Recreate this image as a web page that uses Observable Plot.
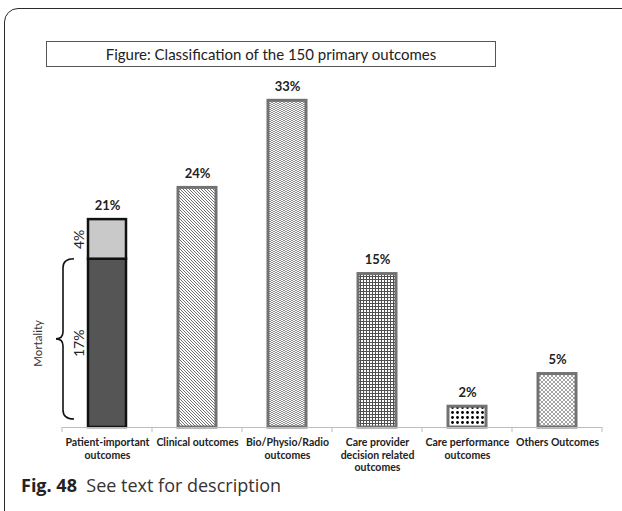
<!DOCTYPE html>
<html><head><meta charset="utf-8">
<script src="https://cdn.jsdelivr.net/npm/d3@7"></script>
<script src="https://cdn.jsdelivr.net/npm/@observablehq/plot@0.6"></script>
<style>
html,body{margin:0;padding:0;background:#fff;}
body{width:622px;height:511px;position:relative;overflow:hidden;}
#frame{position:absolute;left:4px;top:8px;width:640px;height:520px;border:1.5px solid #2a2a2a;border-radius:14px;box-sizing:border-box;}
#chart{position:absolute;left:0;top:0;}
#title{position:absolute;left:46px;top:41px;width:450px;height:26px;border:1px solid #555;box-sizing:border-box;font:15px Lato, sans-serif;color:#222;text-align:center;line-height:24px;background:#fff;}
#caption{position:absolute;left:21px;top:473px;font:18px "Open Sans", sans-serif;color:#333;white-space:nowrap;}
#caption b{color:#222;}
</style></head>
<body>
<div id="frame"></div>
<div id="chart"></div>
<div id="title">Figure: Classification of the 150 primary outcomes</div>
<div id="caption"><b>Fig. 48</b>&nbsp; See text for description</div>
<script>
// ---- data ----
const categories = ["Patient-important outcomes", "Clinical outcomes", "Bio/Physio/Radio outcomes", "Care provider decision related outcomes", "Care performance outcomes", "Others Outcomes"];
const tickLabels = ["Patient-important\noutcomes", "Clinical outcomes", "Bio/Physio/Radio\noutcomes", "Care provider\ndecision related\noutcomes", "Care performance\noutcomes", "Others Outcomes"];
const barValues = [null, 24.2, 33.0, 15.5, 2.1, 5.4]; // first category is drawn as a stack
const totalLabels = ["21%", "24%", "33%", "15%", "2%", "5%"];
const segmentNames = ["Mortality", "Other patient-important"];
const segmentValues = [17, 4];
const segmentLabels = ["17%", "4%"];
const braceLabel = "Mortality";

// ---- styles ----
const patternIds = [null, "p-clin", "p-bio", "p-care", "p-dots", "p-oth"];
const segmentFills = ["#555555", "#c9c9c9"];

// ---- derived tables ----
const stackData = segmentValues.map((v, i) => ({cat: categories[0], value: v, fill: segmentFills[i], label: segmentLabels[i]}));
const segEnds = d3.cumsum(segmentValues);
const segMids = segmentValues.map((v, i) => segEnds[i] - v / 2);
const patientTotal = d3.sum(segmentValues);
const singles = categories.slice(1).map((c, i) => ({cat: c, value: barValues[i + 1], fill: `url(#${patternIds[i + 1]})`}));
const totals = categories.map((c, i) => ({cat: c, value: i === 0 ? patientTotal : barValues[i], label: totalLabels[i]}));
const ticks = categories.map((c, i) => ({cat: c, label: tickLabels[i]}));

function defsMark() {
  const defs = d3.create("svg:defs");
  const mk = (id, w, h, draw) => {
    const p = defs.append("pattern").attr("id", id).attr("patternUnits", "userSpaceOnUse").attr("width", w).attr("height", h);
    p.append("rect").attr("width", w).attr("height", h).attr("fill", "#fff");
    draw(p);
  };
  mk("p-clin", 3, 3, p => p.append("path").attr("d", "M0,0L3,3M-1,2L1,4M2,-1L4,1").attr("stroke", "#707070").attr("stroke-width", 1));
  mk("p-bio", 4, 4, p => p.append("path").attr("d", "M0,0L2,2L4,0M0,2L2,4L4,2").attr("fill", "none").attr("stroke", "#808080").attr("stroke-width", 0.9));
  mk("p-care", 3, 3, p => p.append("path").attr("d", "M0,0.5H3M0.5,0V3").attr("stroke", "#505050").attr("stroke-width", 1));
  mk("p-dots", 5, 5, p => p.append("circle").attr("cx", 2.5).attr("cy", 2.5).attr("r", 1.4).attr("fill", "#000"));
  mk("p-oth", 4, 4, p => p.append("path").attr("d", "M0,0L4,4M4,0L0,4").attr("stroke", "#8a8a8a").attr("stroke-width", 0.8));
  return defs.node();
}

function axisAndBrace(index, scales) {
  const x = scales.x, y = scales.y;
  const step = x.step(), bw = x.bandwidth();
  const centers = categories.map(c => x(c) + bw / 2);
  const g = d3.create("svg:g");
  const y0 = y(0);
  const bounds = centers.map(c => c - step / 2).concat([centers[centers.length - 1] + step / 2]);
  g.append("line").attr("x1", bounds[0]).attr("x2", bounds[bounds.length - 1]).attr("y1", y0 + 0.5).attr("y2", y0 + 0.5).attr("stroke", "#bdbdbd");
  for (const b of bounds) g.append("line").attr("x1", b).attr("x2", b).attr("y1", y0).attr("y2", y0 + 5).attr("stroke", "#bdbdbd");
  // curly brace spanning the mortality segment
  const c0 = centers[0];
  const top = y(segmentValues[0]), bot = y(0) - 8, mid = (top + bot) / 2;
  const xl = c0 - 44, xh = c0 - 33, xt = c0 - 51;
  const d = `M${xh},${top}Q${xl},${top} ${xl},${top + 9}L${xl},${mid - 7}Q${xl},${mid} ${xt},${mid}Q${xl},${mid} ${xl},${mid + 7}L${xl},${bot - 9}Q${xl},${bot} ${xh},${bot}`;
  g.append("path").attr("d", d).attr("fill", "none").attr("stroke", "#111").attr("stroke-width", 1.6);
  return g.node();
}

const chart = Plot.plot({
  width: 622,
  height: 480,
  marginLeft: 61,
  marginRight: 20,
  marginTop: 31,
  marginBottom: 53,
  style: {background: "transparent", fontFamily: "Lato, sans-serif", overflow: "visible"},
  x: {domain: categories, axis: null, paddingInner: 0.58, paddingOuter: 0.29},
  y: {domain: [0, 40], axis: null},
  color: {type: "identity"},
  marks: [
    defsMark,
    Plot.barY(singles, {x: "cat", y: "value", fill: "fill", stroke: "#727272", strokeWidth: 3}),
    Plot.barY(stackData, {x: "cat", y: "value", fill: "fill", stroke: "#111", strokeWidth: 2.5}),
    axisAndBrace,
    Plot.text(totals, {x: "cat", y: "value", text: "label", dy: -14, fontSize: 13, fontWeight: "bold", fill: "#222"}),
    Plot.text(stackData, {x: "cat", y: (d, i) => segMids[i], text: "label", rotate: -90, dx: -28, fontSize: 14, fill: "#222"}),
    Plot.text([braceLabel], {x: () => categories[0], y: () => segMids[0], text: d => d, rotate: -90, dx: -69, fontSize: 11.5, fill: "#333"}),
    Plot.text(ticks, {x: "cat", y: () => 0, text: "label", dy: 10, lineAnchor: "top", lineHeight: 1.17, fontSize: 10.5, fontWeight: "bold", fill: "#222"})
  ]
});
document.getElementById("chart").appendChild(chart);
</script>
</body></html>
